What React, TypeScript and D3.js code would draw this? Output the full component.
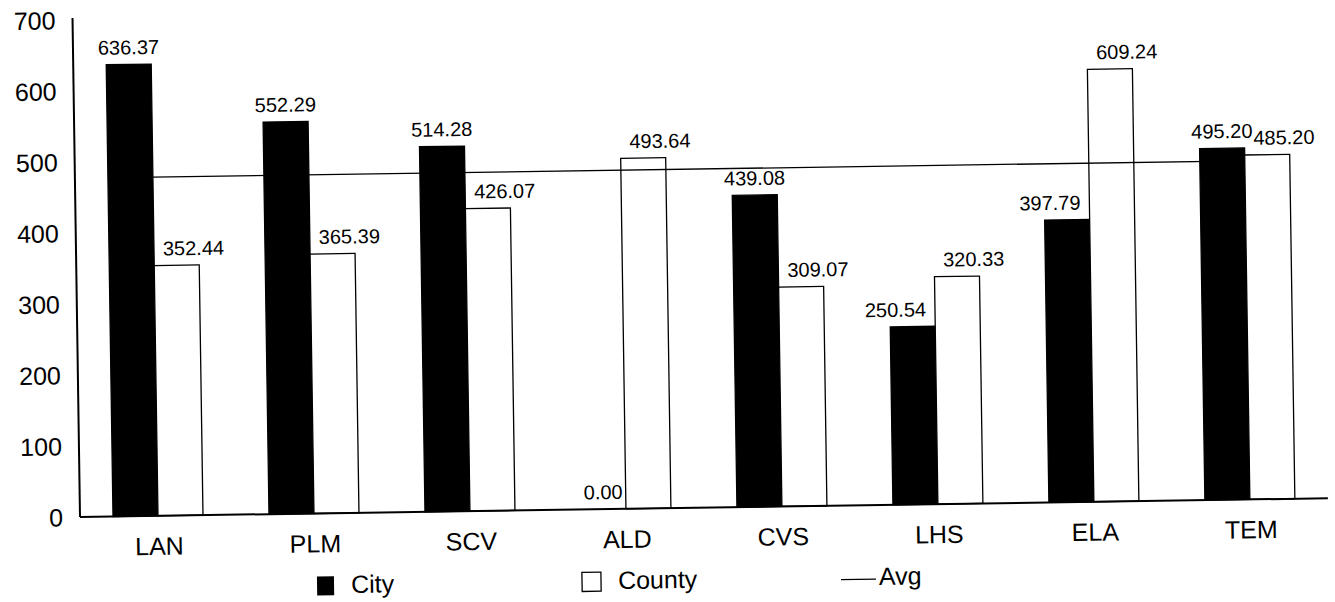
import React from "react";
import * as d3 from "d3";

const categories = ["LAN", "PLM", "SCV", "ALD", "CVS", "LHS", "ELA", "TEM"];
const cityValues = [636.37, 552.29, 514.28, 0.0, 439.08, 250.54, 397.79, 495.2];
const countyValues = [352.44, 365.39, 426.07, 493.64, 309.07, 320.33, 609.24, 485.2];
const avgValue = 477;
const yTicks = [0, 100, 200, 300, 400, 500, 600, 700];
const seriesNames = ["City", "County"];

const W = 1335;
const H = 602;
const originX = 80;
const originY = 517;
const FONT = "'Liberation Sans', Arial, Helvetica, sans-serif";

export default function App() {
  const x = d3
    .scaleBand<string>()
    .domain(categories)
    .range([originX, 1328])
    .paddingInner(0)
    .paddingOuter(0);
  const bw = x.bandwidth();
  const barW = 45;
  const xSub = d3
    .scaleBand<string>()
    .domain(seriesNames)
    .range([bw / 2 - barW, bw / 2 + barW])
    .padding(0);
  const y = d3.scaleLinear().domain([0, 700]).range([originY, 20]);

  const series = [cityValues, countyValues];
  const fills = ["#000", "#fff"];

  const avgX0 = (x(categories[0]) as number) + bw / 2;
  const lastCat = categories[categories.length - 1];
  const avgX1 = (x(lastCat) as number) + bw / 2;

  // label offset: county labels pushed right; city labels pushed left when the county bar is taller
  const labelShift = (s: number, i: number) => {
    if (s === 1) return 17;
    return countyValues[i] > cityValues[i] && cityValues[i] > 0 ? -17 : 0;
  };

  return (
    <svg
      width={W}
      height={H}
      style={{ position: "absolute", left: 0, top: 0, background: "#fff" }}
      fontFamily={FONT}
    >
      <rect x={0} y={0} width={W} height={H} fill="#fff" />
      <g transform={`rotate(-0.86, ${originX}, ${originY})`}>
        {/* bars */}
        {categories.map((c, i) => (
          <g key={c} transform={`translate(${x(c)},0)`}>
            {series.map((vals, s) => {
              const v = vals[i];
              const bx = xSub(seriesNames[s]) as number;
              const by = y(v);
              return v > 0 ? (
                <rect
                  key={s}
                  x={bx}
                  y={by}
                  width={xSub.bandwidth()}
                  height={originY - by}
                  fill={fills[s]}
                  stroke="#000"
                  strokeWidth={1.3}
                />
              ) : null;
            })}
          </g>
        ))}
        {/* avg line */}
        <line x1={avgX0} x2={avgX1} y1={y(avgValue)} y2={y(avgValue)} stroke="#000" strokeWidth={1.3} />
        {/* value labels */}
        {categories.map((c, i) => (
          <g key={c} transform={`translate(${x(c)},0)`}>
            {series.map((vals, s) => {
              const v = vals[i];
              const bx = xSub(seriesNames[s]) as number;
              return (
                <text
                  key={s}
                  x={bx + xSub.bandwidth() / 2 + labelShift(s, i)}
                  y={y(v) - 10}
                  textAnchor="middle"
                  fontSize={20}
                  fill="#000"
                >
                  {v.toFixed(2)}
                </text>
              );
            })}
          </g>
        ))}
        {/* axes */}
        <line x1={originX} x2={originX} y1={originY} y2={y(700) - 2} stroke="#000" strokeWidth={2} />
        <line x1={originX} x2={1328} y1={originY} y2={originY} stroke="#000" strokeWidth={2} />
        {yTicks.map((t) => (
          <text key={t} x={63} y={y(t)} dy="0.36em" textAnchor="end" fontSize={25} fill="#000">
            {t}
          </text>
        ))}
        {categories.map((c) => (
          <text
            key={c}
            x={(x(c) as number) + bw / 2 + 1}
            y={originY + 39}
            textAnchor="middle"
            fontSize={25}
            fill="#000"
          >
            {c}
          </text>
        ))}
        {/* legend */}
        <g transform={`translate(0, ${originY + 80})`}>
          <rect x={316} y={-17} width={17} height={19} fill="#000" />
          <text x={350} y={0} fontSize={25} fill="#000">City</text>
          <rect x={581} y={-17} width={19} height={19} fill="#fff" stroke="#000" strokeWidth={1.3} />
          <text x={617} y={0} fontSize={25} fill="#000">County</text>
          <line x1={840} x2={875} y1={-6} y2={-6} stroke="#000" strokeWidth={1.3} />
          <text x={878} y={0} fontSize={25} fill="#000">Avg</text>
        </g>
      </g>
    </svg>
  );
}
